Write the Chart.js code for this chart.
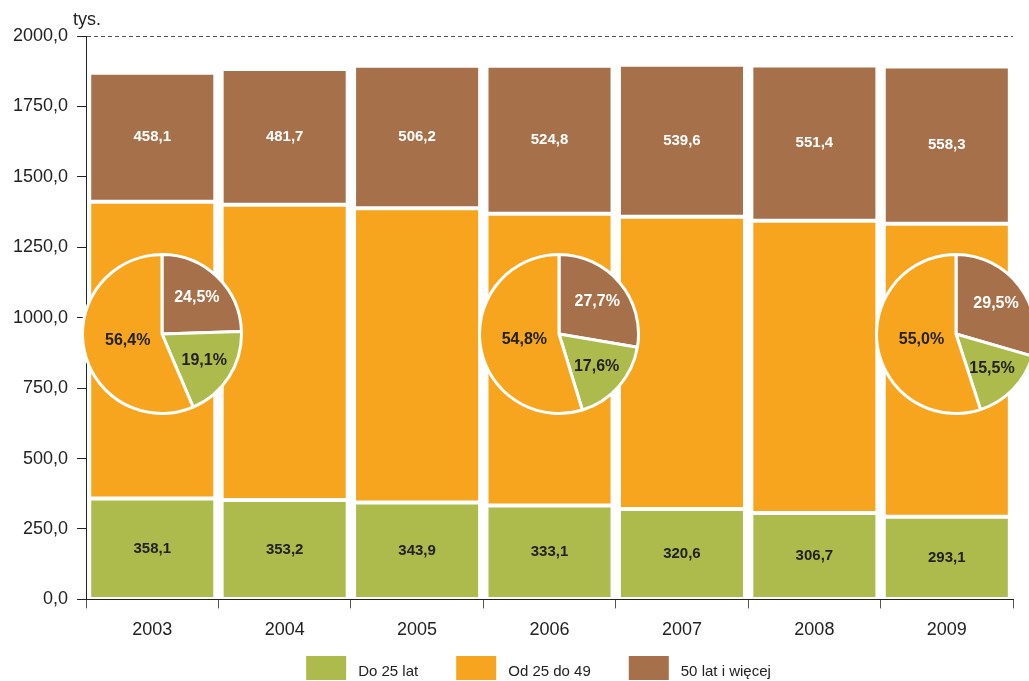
<!DOCTYPE html>
<html>
<head>
<meta charset="utf-8">
<script src="https://cdn.jsdelivr.net/npm/chart.js@4/dist/chart.umd.min.js"></script>
<style>
html, body { margin: 0; padding: 0; background: #fff; overflow: hidden; }
#wrap { position: relative; width: 1029px; height: 681px; overflow: hidden; }
#main { position: absolute; left: 0; top: 0; }
.pie { position: absolute; width: 162px; height: 162px; }
</style>
</head>
<body>
<div id="wrap"><canvas id="main" width="1029" height="681"></canvas></div>
<script>
// ---- data ----
const years = ['2003', '2004', '2005', '2006', '2007', '2008', '2009'];
const seriesNames = ['Do 25 lat', 'Od 25 do 49', '50 lat i więcej'];
const under25 = [358.1, 353.2, 343.9, 333.1, 320.6, 306.7, 293.1];
const from25to49 = [1053.5, 1048.0, 1044.4, 1036.2, 1037.4, 1037.3, 1040.6];
const over50 = [458.1, 481.7, 506.2, 524.8, 539.6, 551.4, 558.3];
const unitText = 'tys.';

const pieYears = ['2003', '2006', '2009'];
const pieOver50 = [24.5, 27.7, 29.5];
const pieUnder25 = [19.1, 17.6, 15.5];
const pie25to49 = [56.4, 54.8, 55.0];

// ---- styles ----
const GREEN = '#adbb4c', ORANGE = '#f7a51e', BROWN = '#a5704a';
const DARK = '#222222';
const FONT = '"Liberation Sans", Arial, Helvetica, sans-serif';
Chart.defaults.font.family = FONT;
Chart.defaults.color = DARK;

const fmt = v => Number(v).toFixed(1).replace('.', ',');

const unitLabel = {
  id: 'unitLabel',
  afterDraw(chart) {
    const { ctx, chartArea } = chart;
    ctx.save();
    ctx.font = '18px ' + FONT;
    ctx.fillStyle = DARK;
    ctx.textAlign = 'left';
    ctx.textBaseline = 'alphabetic';
    ctx.fillText(unitText, chartArea.left - 13, chartArea.top - 11);
    ctx.restore();
  }
};

const barValueColors = [DARK, null, '#ffffff'];
const barValues = {
  id: 'barValues',
  afterDatasetsDraw(chart) {
    const ctx = chart.ctx;
    ctx.save();
    ctx.font = 'bold 15px ' + FONT;
    ctx.textAlign = 'center';
    ctx.textBaseline = 'middle';
    chart.data.datasets.forEach((ds, di) => {
      const col = barValueColors[di];
      if (!col) return;
      ctx.fillStyle = col;
      chart.getDatasetMeta(di).data.forEach((bar, i) => {
        const p = bar.getProps(['x', 'y', 'base'], true);
        ctx.fillText(fmt(ds.data[i]), p.x, (p.y + p.base) / 2);
      });
    });
    ctx.restore();
  }
};

const customLegend = {
  id: 'customLegend',
  afterDraw(chart) {
    const ctx = chart.ctx;
    const boxW = 40, boxH = 24, gapText = 12, gapItem = 38;
    ctx.save();
    ctx.font = '15px ' + FONT;
    const items = chart.data.datasets.map(ds => ({
      text: ds.label, color: ds.backgroundColor,
      w: boxW + gapText + ctx.measureText(ds.label).width
    }));
    const total = items.reduce((s, it) => s + it.w, 0) + gapItem * (items.length - 1);
    let x = chart.width / 2 + 24 - total / 2;
    const top = chart.height - 25;
    items.forEach(it => {
      ctx.fillStyle = it.color;
      ctx.fillRect(x, top, boxW, boxH);
      ctx.fillStyle = DARK;
      ctx.textAlign = 'left';
      ctx.textBaseline = 'middle';
      ctx.fillText(it.text, x + boxW + gapText, top + boxH / 2 + 4);
      x += it.w + gapItem;
    });
    ctx.restore();
  }
};

const mainChart = new Chart(document.getElementById('main'), {
  type: 'bar',
  data: {
    labels: years,
    datasets: [
      { label: seriesNames[0], data: under25, backgroundColor: GREEN },
      { label: seriesNames[1], data: from25to49, backgroundColor: ORANGE },
      { label: seriesNames[2], data: over50, backgroundColor: BROWN }
    ]
  },
  options: {
    responsive: false,
    animation: false,
    devicePixelRatio: 1,
    layout: { padding: { left: 4, right: 16, top: 36, bottom: 29 } },
    datasets: {
      bar: {
        categoryPercentage: 1.0,
        barPercentage: 0.952,
        borderWidth: 2,
        borderColor: '#ffffff',
        borderSkipped: false
      }
    },
    plugins: {
      legend: { display: false },
      tooltip: { enabled: false },
      title: { display: false }
    },
    scales: {
      x: {
        stacked: true,
        offset: true,
        grid: {
          display: true, drawOnChartArea: false, drawTicks: true,
          tickLength: 9, tickColor: '#555555', offset: true, tickBorderDash: []
        },
        border: { display: true, color: DARK, width: 1 },
        ticks: { font: { size: 18 }, color: DARK, padding: 11, maxRotation: 0 }
      },
      y: {
        stacked: true,
        min: 0, max: 2000,
        ticks: {
          stepSize: 250, font: { size: 18 }, color: DARK, padding: 9,
          callback: v => fmt(v)
        },
        grid: {
          display: true, drawOnChartArea: true, drawTicks: true,
          tickLength: 9, tickColor: DARK, tickBorderDash: [],
          color: c => (c.tick && c.tick.value === 2000) ? '#555555' : 'rgba(0,0,0,0)',
          lineWidth: 1
        },
        border: { display: true, color: DARK, width: 1, dash: [4, 3] }
      }
    }
  },
  plugins: [unitLabel, barValues, customLegend]
});

// ---- pies ----
const pieLabels = {
  id: 'pieLabels',
  afterDatasetsDraw(chart) {
    const ctx = chart.ctx;
    const ds = chart.data.datasets[0];
    const cols = ['#ffffff', DARK, DARK];
    ctx.save();
    ctx.font = 'bold 16px ' + FONT;
    ctx.textAlign = 'center';
    ctx.textBaseline = 'middle';
    chart.getDatasetMeta(0).data.forEach((arc, i) => {
      const p = arc.getProps(['x', 'y', 'startAngle', 'endAngle', 'outerRadius'], true);
      const mid = (p.startAngle + p.endAngle) / 2;
      const f = ds.data[i] > 50 ? 0.44 : 0.63;
      const r = p.outerRadius * f;
      ctx.fillStyle = cols[i];
      ctx.fillText(fmt(ds.data[i]) + '%', p.x + Math.cos(mid) * r, p.y + Math.sin(mid) * r);
    });
    ctx.restore();
  }
};

const wrap = document.getElementById('wrap');
const xs = mainChart.scales.x, ys = mainChart.scales.y;
pieYears.forEach((yr, k) => {
  const idx = years.indexOf(yr);
  const cx = xs.getPixelForValue(idx) + 9.5;
  const cy = ys.getPixelForValue(943);
  const div = document.createElement('div');
  div.className = 'pie';
  div.style.left = (cx - 81) + 'px';
  div.style.top = (cy - 81) + 'px';
  const cv = document.createElement('canvas');
  cv.width = 162; cv.height = 162;
  div.appendChild(cv);
  wrap.appendChild(div);
  new Chart(cv, {
    type: 'pie',
    data: {
      labels: [seriesNames[2], seriesNames[0], seriesNames[1]],
      datasets: [{
        data: [pieOver50[k], pieUnder25[k], pie25to49[k]],
        backgroundColor: [BROWN, GREEN, ORANGE],
        borderColor: '#ffffff',
        borderWidth: 3
      }]
    },
    options: {
      responsive: false,
      animation: false,
      devicePixelRatio: 1,
      layout: { padding: 0 },
      plugins: { legend: { display: false }, tooltip: { enabled: false } }
    },
    plugins: [pieLabels]
  });
});
</script>
</body>
</html>
